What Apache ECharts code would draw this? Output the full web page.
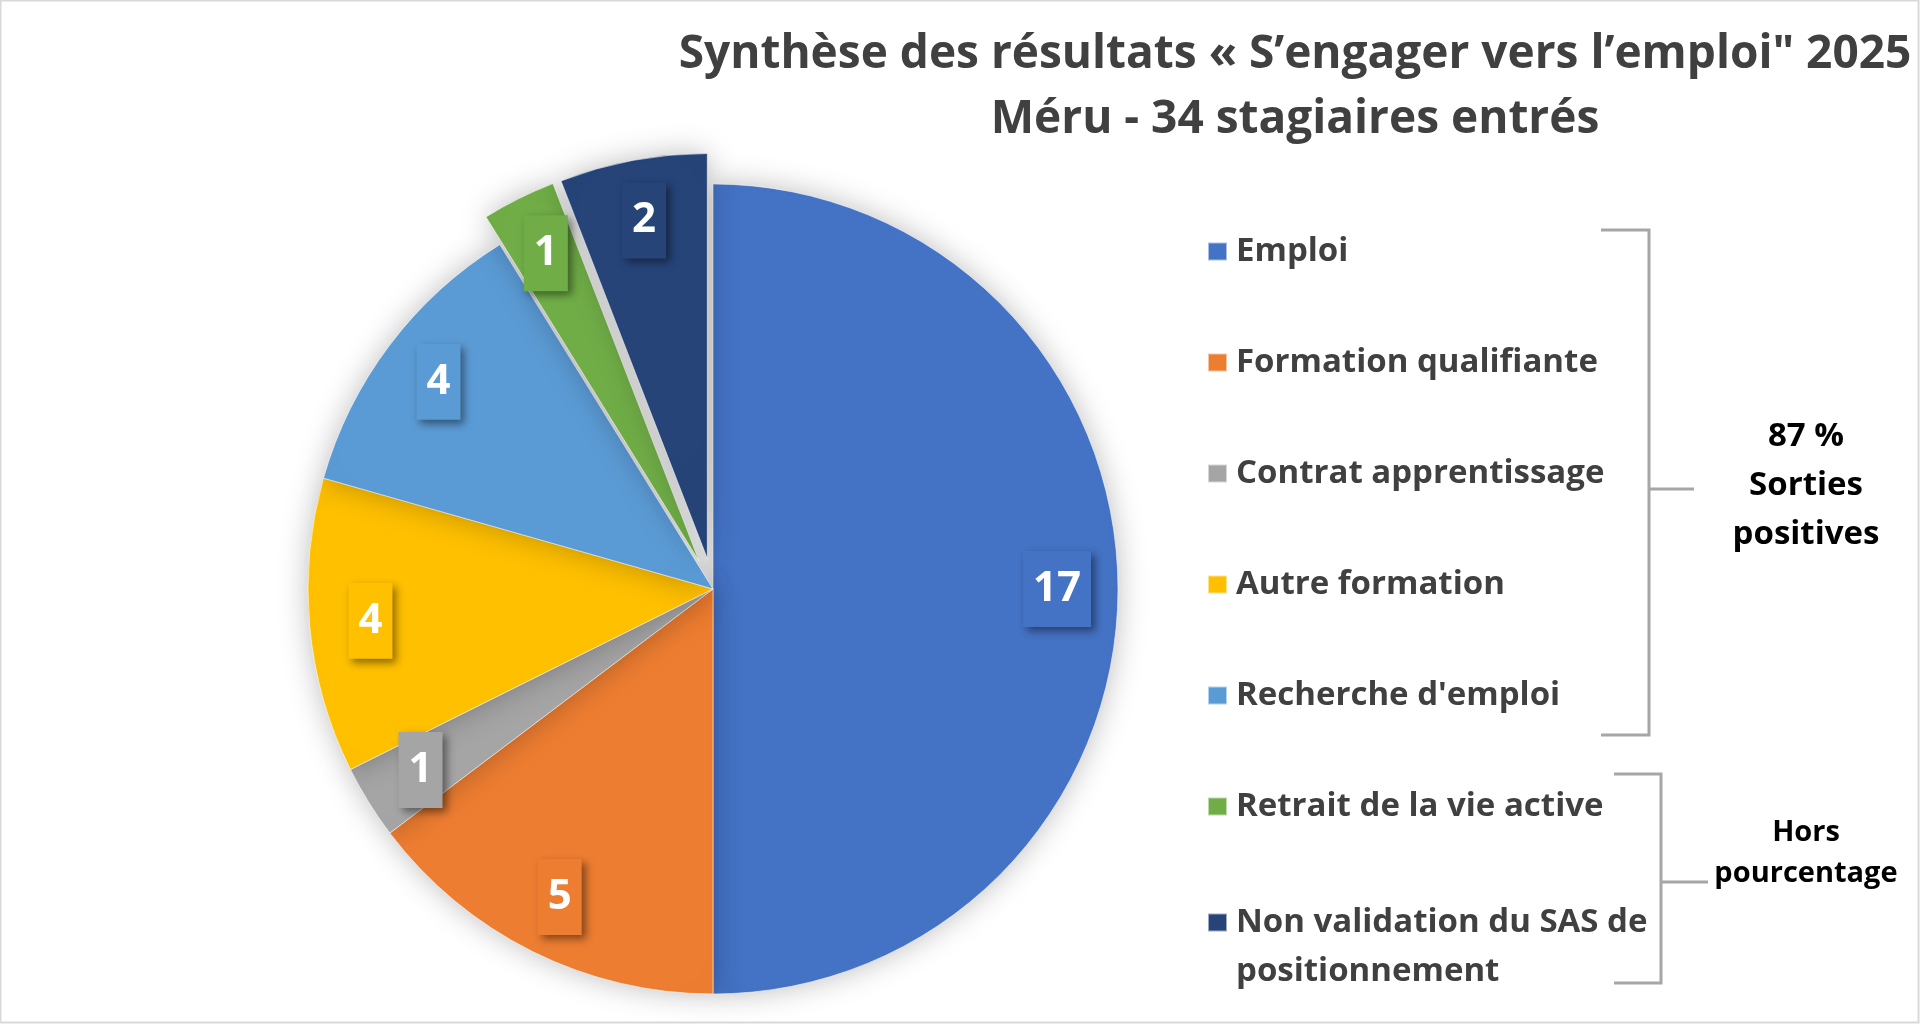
<!DOCTYPE html>
<html>
<head>
<meta charset="utf-8">
<title>Synthèse des résultats - Méru</title>
<script src="https://cdn.jsdelivr.net/npm/echarts@6/dist/echarts.min.js"></script>
<style>
  html, body { margin: 0; padding: 0; background: #fff; }
  #chart { width: 1920px; height: 1024px; }
</style>
</head>
<body>
<div id="chart"></div>
<script>
// catégories de sortie et effectifs (34 stagiaires)
const categories = [
  'Emploi',
  'Formation qualifiante',
  'Contrat apprentissage',
  'Autre formation',
  "Recherche d'emploi",
  'Retrait de la vie active',
  'Non validation du SAS de positionnement'
]
const values = [17, 5, 1, 4, 4, 1, 2]
// texte affiché dans la légende (retour à la ligne du dernier)
const legendLabels = [
  'Emploi',
  'Formation qualifiante',
  'Contrat apprentissage',
  'Autre formation',
  "Recherche d'emploi",
  'Retrait de la vie active',
  'Non validation du SAS de\npositionnement'
]
// parts détachées du camembert (hors pourcentage)
const detached = [false, false, false, false, false, true, true]
const colors = ['#4472C4', '#ED7D31', '#A5A5A5', '#FFC000', '#5B9BD5', '#70AD47', '#264478']

const titleLines = ['Synthèse des résultats « S’engager vers l’emploi" 2025', 'Méru - 34 stagiaires entrés']
const noteSorties = ['87 %', 'Sorties', 'positives']
const noteHors = ['Hors', 'pourcentage']

const FONT = 'Open Sans'
const TEXT_GREY = '#404040'
const BRACKET = '#a6a6a6'

const chart = echarts.init(document.getElementById('chart'))

// secteurs colorés
const pieData = categories.map((name, i) => ({
  name: name,
  value: values[i],
  selected: detached[i],
  itemStyle: { color: colors[i] }
}))

// anneau transparent qui porte les étiquettes plus près du bord
const labelData = categories.map((name, i) => ({
  name: name,
  value: values[i],
  selected: detached[i],
  label: { backgroundColor: colors[i] }
}))

const labelIndex = {}
categories.forEach((name, i) => { labelIndex[name] = i })

const legendText = {
  fontFamily: FONT,
  fontWeight: 'bold',
  fontSize: 33,
  lineHeight: 49,
  color: TEXT_GREY,
  padding: [0, 0, 0, 4]
}

const option = {
  backgroundColor: '#fff',
  animation: false,
  legend: [
    {
      orient: 'vertical',
      left: 1207,
      top: 227,
      padding: 0,
      itemWidth: 19,
      itemHeight: 18,
      itemGap: 62,
      icon: 'rect',
      selectedMode: false,
      data: categories.slice(0, 6),
      textStyle: legendText
    },
    {
      // ligne vide en tête : la première ligne reste en face du carré
      orient: 'vertical',
      left: 1207,
      top: 849,
      padding: 0,
      itemWidth: 19,
      itemHeight: 18,
      icon: 'rect',
      selectedMode: false,
      data: categories.slice(6),
      formatter: name => '\n' + legendLabels[labelIndex[name]],
      textStyle: legendText
    }
  ],
  series: [
    {
      type: 'pie',
      center: [713, 589],
      radius: 405,
      startAngle: 90,
      clockwise: true,
      selectedMode: 'multiple',
      selectedOffset: 31,
      silent: true,
      label: { show: false },
      labelLine: { show: false },
      itemStyle: {
        borderColor: 'rgba(255,255,255,0.55)',
        borderWidth: 1,
        shadowBlur: 30,
        shadowColor: 'rgba(0,0,0,0.26)'
      },
      emphasis: { disabled: true },
      data: pieData
    },
    {
      type: 'pie',
      center: [713, 589],
      radius: [277, 405],
      startAngle: 90,
      clockwise: true,
      selectedMode: 'multiple',
      selectedOffset: 31,
      silent: true,
      avoidLabelOverlap: false,
      itemStyle: { color: 'transparent', borderWidth: 0 },
      labelLine: { show: false },
      label: {
        show: true,
        position: 'inside',
        formatter: '{c}',
        color: '#fff',
        fontFamily: FONT,
        fontWeight: 'bold',
        fontSize: 42,
        lineHeight: 46,
        padding: [15, 10],
        shadowColor: 'rgba(0,0,0,0.45)',
        shadowBlur: 8,
        shadowOffsetX: 4,
        shadowOffsetY: 4
      },
      emphasis: { disabled: true },
      data: labelData
    }
  ],
  graphic: [
    // cadre
    {
      type: 'rect',
      shape: { x: 0.5, y: 0.5, width: 1918, height: 1022 },
      style: { fill: 'none', stroke: '#d9d9d9', lineWidth: 2 },
      silent: true
    },
    {
      type: 'text',
      x: 1295,
      y: 87,
      style: {
        text: titleLines.join('\n'),
        fontFamily: FONT,
        fontWeight: 'bold',
        fontSize: 46,
        lineHeight: 65,
        fill: TEXT_GREY,
        align: 'center',
        verticalAlign: 'middle'
      }
    },
    // accolades de regroupement
    {
      type: 'polyline',
      shape: { points: [[1601, 230], [1649, 230], [1649, 735], [1601, 735]] },
      style: { stroke: BRACKET, lineWidth: 3, fill: 'none' }
    },
    {
      type: 'line',
      shape: { x1: 1649, y1: 489, x2: 1694, y2: 489 },
      style: { stroke: BRACKET, lineWidth: 3 }
    },
    {
      type: 'polyline',
      shape: { points: [[1614, 774], [1661, 774], [1661, 983], [1614, 983]] },
      style: { stroke: BRACKET, lineWidth: 3, fill: 'none' }
    },
    {
      type: 'line',
      shape: { x1: 1661, y1: 882, x2: 1708, y2: 882 },
      style: { stroke: BRACKET, lineWidth: 3 }
    },
    {
      type: 'text',
      x: 1806,
      y: 486,
      style: {
        text: noteSorties.join('\n'),
        fontFamily: FONT,
        fontWeight: 'bold',
        fontSize: 33,
        lineHeight: 49,
        fill: '#000',
        align: 'center',
        verticalAlign: 'middle'
      }
    },
    {
      type: 'text',
      x: 1806,
      y: 853,
      style: {
        text: noteHors.join('\n'),
        fontFamily: FONT,
        fontWeight: 'bold',
        fontSize: 29,
        lineHeight: 41,
        fill: '#000',
        align: 'center',
        verticalAlign: 'middle'
      }
    }
  ]
}

chart.setOption(option)
</script>
</body>
</html>
